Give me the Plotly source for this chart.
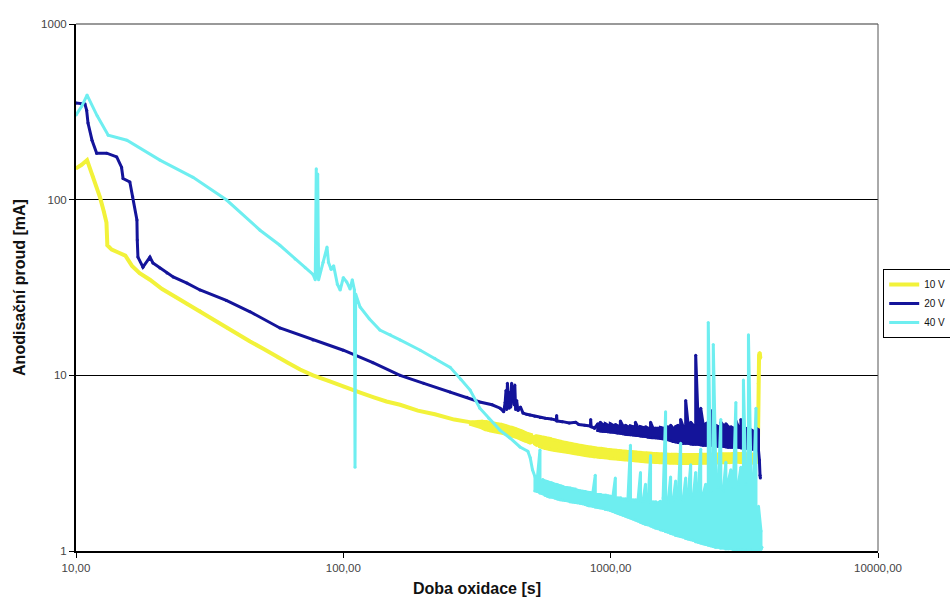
import plotly.graph_objects as go

# ---- anodizing current vs. oxidation time, three voltages ----

# sampling times of the long, noisy tail of the recordings [s]
t_tail = [521, 532, 544, 556, 568, 580, 593, 606, 619, 633, 647, 661, 675, 690, 705, 720,
          736, 752, 769, 786, 803, 820, 838, 857, 876, 895, 914, 934, 955, 976, 997, 1019,
          1041, 1064, 1087, 1111, 1135, 1160, 1186, 1212, 1238, 1265, 1293, 1321, 1350, 1380,
          1410, 1441, 1472, 1504, 1537, 1571, 1605, 1640, 1676, 1713, 1750, 1788, 1827, 1867,
          1908, 1950, 1992, 2036, 2080, 2126, 2172, 2220, 2268, 2318, 2368, 2420, 2473, 2527,
          2582, 2639, 2697, 2756, 2816, 2877, 2940, 3005, 3070, 3137, 3206, 3276, 3348, 3421,
          3496, 3572, 3650]

# ---------------- 10 V ----------------
t_10v_head = [10.0, 10.5, 11.0, 11.6, 12.3, 12.7, 13.0, 13.1, 13.6, 14.4, 15.3, 16.2, 17.3,
              18.9, 21.0, 23.5, 26.0, 29.1, 33.0, 37.0, 40.0, 44.8, 50.0, 57.0, 62.0, 68.9,
              77.0, 88.0, 100.0, 115.0, 130.0, 145.0, 163.0, 190.0, 220.0, 260.0]
i_10v_head = [151, 158, 168, 135, 103, 86, 74, 55, 52, 50, 48, 42, 38.2,
              35, 31, 28, 25.5, 23.3, 20.5, 18.5, 17.3, 15.6, 14.2, 12.6, 11.8, 10.8,
              10.0, 9.3, 8.6, 8.0, 7.5, 7.1, 6.8, 6.3, 6.0, 5.6]
# the 10 V record gets noisy from ~300 s on
t_10v_mid = [300, 307, 313, 320, 327, 334, 341, 349, 356, 364, 372, 380, 388, 397, 405, 414,
             423, 433, 442, 452, 462, 472, 482, 493, 504]
i_10v_mid_hi = [5.4, 5.41, 5.42, 5.43, 5.44, 5.43, 5.42, 5.39, 5.36, 5.32, 5.29, 5.26, 5.23,
                5.19, 5.15, 5.09, 5.04, 4.99, 4.94, 4.87, 4.81, 4.75, 4.68, 4.62, 4.57]
i_10v_mid_lo = [5.28, 5.23, 5.18, 5.13, 5.08, 5.0, 4.94, 4.89, 4.85, 4.82, 4.79, 4.76, 4.73,
                4.69, 4.66, 4.61, 4.56, 4.51, 4.47, 4.41, 4.35, 4.29, 4.24, 4.18, 4.13]
# upper / lower edge of the noisy 10 V trace at t_tail[0:89]
i_10v_hi = [4.52, 4.49, 4.46, 4.43, 4.4, 4.37, 4.34, 4.3, 4.27, 4.23, 4.2, 4.16, 4.13, 4.1,
            4.07, 4.05, 4.02, 4.0, 3.97, 3.95, 3.93, 3.91, 3.89, 3.87, 3.85, 3.83, 3.82, 3.8,
            3.78, 3.76, 3.75, 3.74, 3.73, 3.71, 3.7, 3.69, 3.68, 3.67, 3.66, 3.65, 3.64, 3.63,
            3.62, 3.61, 3.6, 3.59, 3.58, 3.57, 3.56, 3.56, 3.55, 3.55, 3.54, 3.54, 3.53, 3.53,
            3.53, 3.52, 3.52, 3.52, 3.52, 3.52, 3.52, 3.52, 3.52, 3.52, 3.53, 3.53, 3.53, 3.53,
            3.53, 3.54, 3.54, 3.54, 3.55, 3.55, 3.55, 3.56, 3.56, 3.57, 3.57, 3.57, 3.56, 3.56,
            3.55, 3.55, 3.54, 3.53, 3.52]
i_10v_lo = [4.08, 4.0, 3.94, 3.9, 3.86, 3.83, 3.8, 3.78, 3.76, 3.74, 3.72, 3.7, 3.68, 3.66,
            3.64, 3.62, 3.6, 3.58, 3.56, 3.54, 3.52, 3.5, 3.49, 3.47, 3.46, 3.44, 3.43, 3.42,
            3.41, 3.4, 3.38, 3.37, 3.36, 3.35, 3.34, 3.33, 3.32, 3.31, 3.3, 3.29, 3.28, 3.27,
            3.26, 3.25, 3.24, 3.23, 3.23, 3.22, 3.21, 3.21, 3.2, 3.2, 3.19, 3.19, 3.18, 3.18,
            3.18, 3.17, 3.17, 3.17, 3.17, 3.17, 3.17, 3.17, 3.17, 3.17, 3.18, 3.18, 3.18, 3.18,
            3.18, 3.19, 3.19, 3.19, 3.2, 3.2, 3.2, 3.21, 3.21, 3.22, 3.22, 3.22, 3.21, 3.21,
            3.2, 3.2, 3.19, 3.18, 3.17]
t_10v_end = [3550, 3570, 3590, 3610, 3630]
i_10v_end = [3.3, 9.0, 13.0, 13.5, 12.5]

# ---------------- 20 V ----------------
t_20v_head = [10.0, 10.8, 10.96, 11.09, 11.48, 11.95, 13.03, 14.2, 14.8, 15.0, 15.9, 16.3,
              16.9, 16.95, 17.05, 17.8, 18.9, 19.4, 20.6, 21.9, 23.1, 26.0, 29.1, 36.5, 44.8,
              57.9, 77.0, 100.0, 129.0, 163.0, 200.0, 251.0, 290.0, 324.0, 360.0, 386.0, 398.0,
              403, 406, 408, 411, 414, 417, 420, 423, 426, 429, 432, 435, 438, 441, 445, 450,
              460, 470, 485, 499, 520, 545, 570, 600, 626, 628, 630, 660, 700, 740, 760, 800,
              840, 842, 845, 870]
i_20v_head = [355, 350, 323, 273, 218, 184, 184, 175, 153, 132, 126, 104,
              76.6, 58.9, 47.1, 41.3, 47.1, 43.6, 40.8, 38.2, 36.3, 33.5, 30.6, 26.7, 23.0,
              18.6, 15.9, 13.9, 11.8, 10.0, 9.0, 8.04, 7.5, 7.05, 6.8, 6.5, 6.2,
              7.0, 8.2, 6.4, 9.0, 7.0, 6.5, 8.0, 6.6, 9.0, 7.2, 8.5, 6.8, 8.8, 6.4, 7.2, 6.3,
              6.6, 6.1, 6.0, 5.94, 5.85, 5.75, 5.7, 5.65, 5.55, 5.9, 5.5, 5.45, 5.35, 5.4, 5.25,
              5.2, 5.15, 5.6, 5.1, 5.0]
# upper / lower edge of the noisy 20 V trace at t_tail[25:90]
i_20v_hi = [5.3, 5.4, 5.25, 5.3, 5.2, 5.3, 5.2, 5.25, 5.15, 5.5, 5.15, 5.2, 5.1, 5.15,
            5.1, 5.4, 5.05, 5.1, 5.05, 5.1, 5.0, 5.4, 5.0, 5.0, 5.0, 5.05, 5.0, 5.0,
            5.1, 5.2, 5.0, 5.1, 5.2, 5.6, 5.1, 7.2, 5.2, 5.4, 5.2, 13.0, 5.3, 6.5, 5.2,
            5.3, 5.4, 6.3, 5.2, 5.2, 5.1, 5.4, 5.2, 5.3, 5.1, 5.1, 5.0, 5.5, 5.1, 5.6,
            5.0, 5.0, 4.9, 4.9, 4.8, 5.0, 4.9]
i_20v_lo = [4.85, 4.82, 4.8, 4.79, 4.78, 4.76, 4.75, 4.72, 4.7, 4.68, 4.65, 4.62, 4.6, 4.59,
            4.58, 4.56, 4.55, 4.52, 4.5, 4.48, 4.45, 4.43, 4.42, 4.41, 4.4, 4.37, 4.35, 4.32,
            4.3, 4.25, 4.2, 4.18, 4.15, 4.12, 4.1, 4.1, 4.1, 4.07, 4.05, 4.05, 4.05, 4.02, 4.0,
            4.0, 4.0, 4.0, 4.0, 3.97, 3.95, 3.95, 3.95, 3.92, 3.9, 3.9, 3.9, 3.9, 3.9, 3.87,
            3.85, 3.85, 3.85, 3.82, 3.8, 3.78, 3.75]
t_20v_end = [3600, 3620, 3630]
i_20v_end = [3.3, 2.7, 2.6]

# ---------------- 40 V ----------------
t_40v_head = [10.0, 10.5, 11.0, 12.0, 13.2, 15.5, 20.6, 27.4, 36.6, 48.8, 57.9, 66.0, 72.0,
              77.0, 78.5, 79.2, 79.6, 80.2, 80.8, 84.0, 86.9, 88.0, 90.0, 92.0, 95.0, 97.3,
              100.0, 103.0, 106.0, 108.0, 110.0, 110.6, 111.2, 115.5, 125.0, 137.0, 150.0,
              163.0, 194.0, 220.0, 251.0, 275.0, 298.0, 324.0, 350.0, 385.0, 420.0, 458.0,
              490.0, 500.0, 510.0]
i_40v_head = [303, 340, 394, 300, 233, 218, 168, 134, 99.5, 67, 55, 46, 41,
              37.5, 35, 150, 36, 140, 35, 44, 53.7, 44, 40, 42, 33, 30.6,
              36, 34, 31, 35, 30.6, 3.0, 29, 24.5, 21, 18.1, 17,
              15.9, 13.9, 12.5, 11.1, 9.5, 8.25, 6.5, 5.7, 4.88, 4.4, 3.91,
              3.7, 3.4, 2.9]
# upper / lower edge of the noisy 40 V trace at t_tail[0:91]
i_40v_hi = [2.65, 2.62, 3.76, 2.55, 2.5, 2.48, 2.45, 2.43, 2.4, 2.38, 2.35, 2.33, 2.3, 2.29,
            2.28, 2.26, 2.25, 2.22, 2.2, 2.19, 2.18, 2.16, 2.15, 2.13, 2.7, 2.1, 2.1, 2.08,
            2.08, 2.06, 2.05, 2.03, 2.6, 2.0, 2.0, 1.98, 1.98, 1.96, 4.0, 1.95, 1.95, 1.93,
            2.8, 1.92, 2.4, 1.9, 3.5, 1.9, 1.9, 1.88, 1.92, 2.0, 6.2, 1.9, 2.64, 1.95,
            2.5, 2.0, 4.1, 1.95, 2.6, 2.1, 3.1, 2.0, 2.8, 2.2, 3.8, 2.1, 2.4, 20.0,
            2.2, 15.0, 2.9, 2.3, 5.6, 2.2, 3.2, 2.5, 2.9, 2.3, 7.0, 2.4, 3.0, 9.4,
            2.4, 17.0, 2.8, 2.2, 6.5, 1.8, 1.3]
i_40v_lo = [2.2, 2.18, 2.14, 2.12, 2.08, 2.05, 2.03, 2.02, 2.0, 1.98, 1.96, 1.95, 1.94, 1.93,
            1.91, 1.9, 1.89, 1.88, 1.87, 1.86, 1.84, 1.82, 1.81, 1.8, 1.78, 1.77, 1.76, 1.75,
            1.73, 1.72, 1.7, 1.68, 1.66, 1.64, 1.62, 1.6, 1.58, 1.56, 1.54, 1.52, 1.5, 1.48,
            1.46, 1.44, 1.42, 1.41, 1.39, 1.37, 1.35, 1.34, 1.32, 1.31, 1.29, 1.28, 1.26, 1.25,
            1.23, 1.22, 1.21, 1.2, 1.18, 1.17, 1.16, 1.15, 1.13, 1.12, 1.11, 1.1, 1.09, 1.08,
            1.07, 1.06, 1.05, 1.05, 1.04, 1.04, 1.03, 1.03, 1.03, 1.02, 1.02, 1.02, 1.02, 1.01,
            1.01, 1.01, 1.01, 1.01, 1.01, 1.01, 1.02]
t_40v_end = [3680]
i_40v_end = [1.05]


def band_path(t, hi, lo):
    """Draw a noisy record as dense vertical strokes between its edges."""
    xs, ys = [], []
    for k, (tk, h, l) in enumerate(zip(t, hi, lo)):
        xs += [tk, tk]
        ys += [h, l] if k % 2 == 0 else [l, h]
    return xs, ys


mx, my = band_path(t_10v_mid, i_10v_mid_hi, i_10v_mid_lo)
bx, by = band_path(t_tail[:len(i_10v_hi)], i_10v_hi, i_10v_lo)
t_10v = t_10v_head + mx + bx + t_10v_end
i_10v = i_10v_head + my + by + i_10v_end

bx, by = band_path(t_tail[25:25 + len(i_20v_hi)], i_20v_hi, i_20v_lo)
t_20v = t_20v_head + bx + t_20v_end
i_20v = i_20v_head + by + i_20v_end

bx, by = band_path(t_tail[:len(i_40v_hi)], i_40v_hi, i_40v_lo)
t_40v = t_40v_head + bx + t_40v_end
i_40v = i_40v_head + by + i_40v_end

assert len(i_10v_mid_hi) == len(i_10v_mid_lo) == len(t_10v_mid)
assert len(i_10v_hi) == len(i_10v_lo) == 89
assert len(i_20v_hi) == len(i_20v_lo) == 65
assert len(i_40v_hi) == len(i_40v_lo) == 91

x_ticks = [10, 100, 1000, 10000]
x_tick_text = ["10,00", "100,00", "1000,00", "10000,00"]
y_ticks = [1, 10, 100, 1000]
y_tick_text = ["1", "10", "100", "1000"]

series = [
    ("10 V", t_10v, i_10v, "#f2f23a", 4),
    ("20 V", t_20v, i_20v, "#14149a", 3),
    ("40 V", t_40v, i_40v, "#6eeef0", 3),
]

FONT = "Liberation Sans, Arial, sans-serif"

fig = go.Figure()
for name, t, i, color, width in series:
    fig.add_trace(go.Scatter(
        x=t, y=i, name=name, mode="lines+markers",
        line=dict(color=color, width=width),
        marker=dict(color=color, size=3),
    ))

fig.update_layout(
    width=950, height=599,
    margin=dict(l=76, r=72, t=24, b=48, autoexpand=False),
    paper_bgcolor="white", plot_bgcolor="white",
    font=dict(family=FONT, size=11, color="#222"),
    showlegend=True,
    legend=dict(
        x=1.0065, y=0.535, xanchor="left", yanchor="top",
        bordercolor="black", borderwidth=1, bgcolor="white",
        font=dict(size=10, color="#111"),
        itemwidth=30, tracegroupgap=0,
    ),
    xaxis=dict(
        type="log", range=[1, 4],
        tickvals=x_ticks, ticktext=x_tick_text,
        ticks="outside", ticklen=5, tickcolor="black", tickwidth=1,
        showline=True, linecolor="black", linewidth=2,
        showgrid=False, zeroline=False,
        tickfont=dict(size=11.5, color="#444"),
        title=dict(text="<b>Doba oxidace [s]</b>", font=dict(size=16, color="#111"), standoff=10),
    ),
    yaxis=dict(
        type="log", range=[0, 3],
        tickvals=y_ticks, ticktext=y_tick_text,
        ticks="outside", ticklen=5, tickcolor="black", tickwidth=1,
        showline=True, linecolor="black", linewidth=2,
        showgrid=True, gridcolor="black", gridwidth=1,
        zeroline=False,
        tickfont=dict(size=11.5, color="#444"),
        title=dict(text="<b>Anodisační proud [mA]</b>", font=dict(size=16, color="#111"), standoff=12),
    ),
    shapes=[
        dict(type="line", xref="paper", yref="paper", x0=0, x1=1, y0=1, y1=1,
             line=dict(color="#999", width=2), layer="above"),
        dict(type="line", xref="paper", yref="paper", x0=1, x1=1, y0=0, y1=1,
             line=dict(color="#555", width=1), layer="above"),
    ],
)

fig.write_html("out.html")
